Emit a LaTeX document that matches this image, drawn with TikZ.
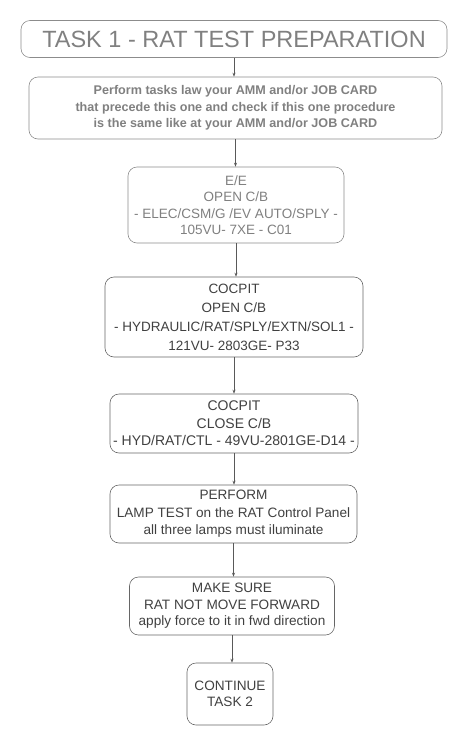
\documentclass[tikz,border=0pt]{standalone}
\usepackage{fontspec}
\setmainfont{Liberation Sans}
\usetikzlibrary{arrows.meta}

\begin{document}
\begin{tikzpicture}[x=1pt,y=-1pt]
\tikzset{edge/.style = {-{Stealth[length=4pt,width=3pt]}, draw=black!65, line width=0.6pt}}
\tikzset{box/.style = {shape=rectangle, rounded corners=9pt, draw=black!60, line width=0.6pt, align=center, inner sep=0pt}}
\tikzset{faint/.style = {box, text=black!50, draw=black!45}}
\useasboundingbox (0,0) rectangle (469,745);
\node[faint, minimum width=426pt, minimum height=37pt, font=\fontsize{23.5}{26}\selectfont](title) at (234,39) {TASK 1 - RAT TEST PREPARATION};
\node[faint, minimum width=413pt, minimum height=62pt, font=\bfseries\fontsize{12.6}{16.5}\selectfont](prep) at (235.5,108) {Perform tasks law your AMM and/or JOB CARD\\that precede this one and check if this one procedure\\is the same like at your AMM and/or JOB CARD};
\node[faint, minimum width=216pt, minimum height=76pt, font=\fontsize{13.5}{16.5}\selectfont](elec) at (236,205) {E/E\\OPEN C/B\\- ELEC/CSM/G /EV AUTO/SPLY -\\105VU- 7XE - C01};
\node[box, minimum width=258pt, minimum height=80pt, font=\fontsize{13.5}{19}\selectfont, text=black!75](hyd) at (234,317) {COCPIT\\OPEN C/B\\- HYDRAULIC/RAT/SPLY/EXTN/SOL1 -\\121VU- 2803GE- P33};
\node[box, minimum width=248pt, minimum height=59pt, font=\fontsize{14}{17.5}\selectfont, text=black!75](ctl) at (234,423.5) {COCPIT\\CLOSE C/B\\- HYD/RAT/CTL - 49VU-2801GE-D14 -};
\node[box, minimum width=247pt, minimum height=58pt, font=\fontsize{13.6}{17.5}\selectfont, text=black!75](lamp) at (233.5,514) {PERFORM\\LAMP TEST on the RAT Control Panel\\all three lamps must iluminate};
\node[box, minimum width=205pt, minimum height=58pt, font=\fontsize{13.6}{16.5}\selectfont, text=black!75](fwd) at (232,606) {MAKE SURE\\RAT NOT MOVE FORWARD\\apply force to it in fwd direction};
\node[box, minimum width=86pt, minimum height=62pt, font=\fontsize{13.6}{16.5}\selectfont, text=black!75](cont) at (230,694) {CONTINUE\\TASK 2};
\draw[edge] (title.south) -- (title.south |- prep.north);
\draw[edge] (prep.south) -- (prep.south |- elec.north);
\draw[edge] (elec.south) -- (elec.south |- hyd.north);
\draw[edge] (hyd.south) -- (hyd.south |- ctl.north);
\draw[edge] (ctl.south) -- (ctl.south |- lamp.north);
\draw[edge] (lamp.south) -- (lamp.south |- fwd.north);
\draw[edge] (fwd.south) -- (fwd.south |- cont.north);
\end{tikzpicture}
\end{document}
